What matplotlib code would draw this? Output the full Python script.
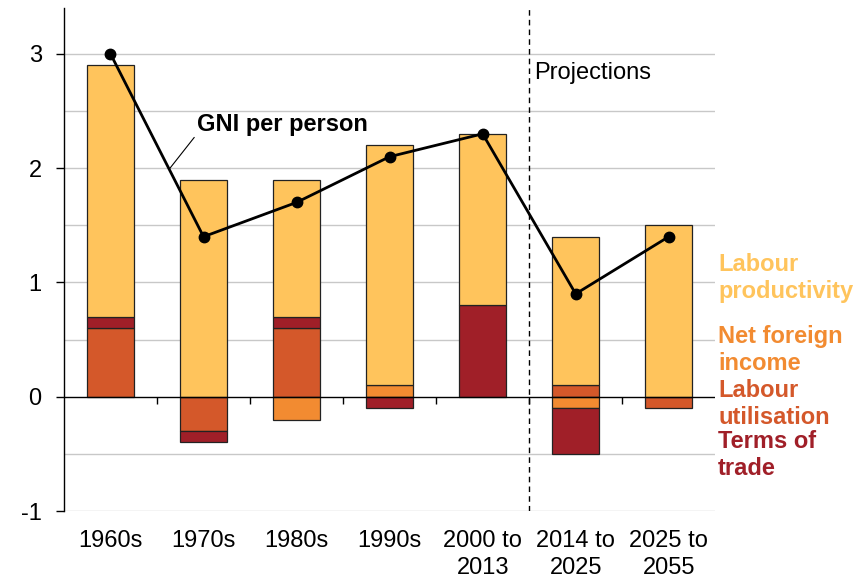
import numpy as np
from matplotlib import pyplot as plt

plt.rcParams['font.family'] = ['Liberation Sans', 'DejaVu Sans']
plt.rcParams['axes.unicode_minus'] = False

periods = ['1960s', '1970s', '1980s', '1990s', '2000 to\n2013', '2014 to\n2025', '2025 to\n2055']
utilisation = [0.6, -0.3, 0.6, 0.0, 0.0, 0.1, -0.1]
foreign_income = [0.0, 0.0, -0.2, 0.1, 0.0, -0.1, 0.0]
terms_of_trade = [0.1, -0.1, 0.1, -0.1, 0.8, -0.4, 0.0]
productivity = [2.2, 1.9, 1.2, 2.1, 1.5, 1.3, 1.5]
gni = [3.0, 1.4, 1.7, 2.1, 2.3, 0.9, 1.4]

series = [
    ('Labour\nutilisation', utilisation, '#D4582A'),
    ('Net foreign\nincome', foreign_income, '#F28B31'),
    ('Terms of\ntrade', terms_of_trade, '#A01F28'),
    ('Labour\nproductivity', productivity, '#FFC45C'),
]

fig = plt.figure(figsize=(8.68, 5.79), dpi=100)
ax = fig.add_axes([0.0737, 0.1174, 0.7503, 0.8686])

x = np.arange(len(periods))
pos_base = np.zeros(len(x))
neg_base = np.zeros(len(x))
for name, vals, col in series:
    v = np.array(vals)
    base = np.where(v >= 0, pos_base, neg_base)
    m = v != 0
    ax.bar(x[m], v[m], 0.5, bottom=base[m], color=col, edgecolor='#222222', linewidth=0.9, zorder=3)
    pos_base += np.where(v > 0, v, 0)
    neg_base += np.where(v < 0, v, 0)

ax.plot(x, gni, color='black', lw=2, marker='o', ms=7.5, zorder=5)

# grid
for g in np.arange(-1, 3.01, 0.5):
    if g != 0:
        ax.axhline(g, color='#C8C8C8', lw=1, zorder=1)
ax.axhline(0, color='black', lw=1, zorder=4)
ax.vlines(np.arange(0.5, 6, 1), -0.06, 0, color='black', lw=1, zorder=4)
ax.axvline(4.5, color='black', lw=1, ls=(0, (4, 3)), zorder=2)

ax.set_xlim(-0.5, 6.5)
ax.set_ylim(-1, 3.4)
ax.set_yticks([-1, 0, 1, 2, 3])
ax.set_xticks(x)
ax.set_xticklabels(periods, linespacing=1.25)
ax.tick_params(axis='x', length=0, pad=14, labelsize=17)
ax.tick_params(axis='y', length=6, width=1, direction='out', labelsize=17, pad=10)
for s in ['top', 'right', 'bottom']:
    ax.spines[s].set_visible(False)
ax.spines['left'].set_linewidth(1)

ax.annotate('GNI per person', xy=(0.64, 2.0), xytext=(0.93, 2.38),
            fontsize=17, fontweight='bold', va='center', ha='left',
            arrowprops=dict(arrowstyle='-', color='black', lw=0.8, shrinkA=0, shrinkB=0,
                            relpos=(0.0, 0.1)))
ax.text(4.55, 2.83, 'Projections', fontsize=17, va='center', ha='left')

# labels at right
lab_y = [(1.0 - 278 / 579, 'Labour\nproductivity', '#FFC45C'),
         (1.0 - 350 / 579, 'Net foreign\nincome', '#F28B31'),
         (1.0 - 404 / 579, 'Labour\nutilisation', '#D4582A'),
         (1.0 - 455 / 579, 'Terms of\ntrade', '#A01F28')]
for yy, txt, col in lab_y:
    fig.text(718 / 868, yy, txt, color=col, fontsize=17, fontweight='bold',
             va='center', ha='left', linespacing=1.2)

fig.savefig('out.png', dpi=100)
